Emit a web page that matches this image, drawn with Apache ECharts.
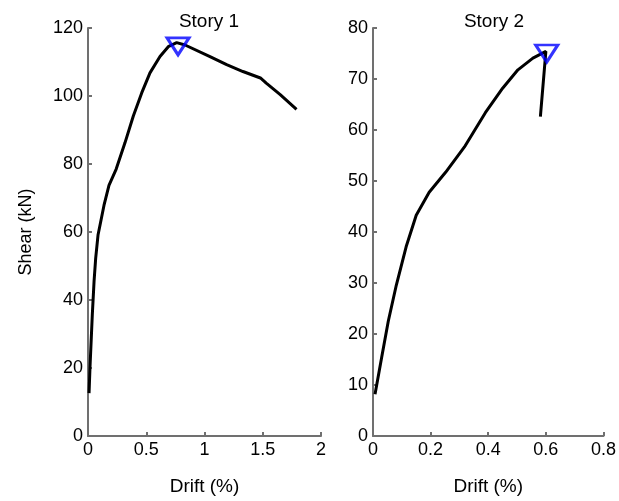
<!DOCTYPE html>
<html lang="en">
  <head>
    <meta charset="UTF-8" />
    <title>Story shear vs drift</title>
    <script src="https://cdnjs.cloudflare.com/ajax/libs/echarts/6.0.0/echarts.min.js"></script>
    <style>
      html, body { margin: 0; padding: 0; background: #fff; }
    </style>
  </head>
  <body>
    <div id="main" style="width: 619px; height: 501px"></div>
    <script>
      // pushover curves
      var story1Drift = [0.009, 0.017, 0.037, 0.052, 0.066, 0.086, 0.109, 0.137, 0.18, 0.242, 0.318, 0.389, 0.461, 0.532, 0.618, 0.689, 0.761, 0.833, 1.047, 1.19, 1.33, 1.48, 1.53, 1.65, 1.79];
      var story1Shear = [12.6, 20.1, 35.7, 45.5, 52.3, 59.1, 63.0, 67.8, 73.7, 78.5, 86.3, 94.1, 100.9, 106.8, 111.6, 114.5, 115.7, 115.0, 111.6, 109.2, 107.2, 105.3, 103.8, 100.4, 96.1];
      var story2Drift = [0.007, 0.03, 0.053, 0.081, 0.115, 0.15, 0.195, 0.252, 0.32, 0.39, 0.45, 0.503, 0.555, 0.6, 0.581];
      var story2Shear = [8.2, 15.4, 22.5, 29.6, 37.1, 43.3, 47.8, 51.7, 56.9, 63.4, 68.2, 71.8, 74.1, 75.4, 62.6];
      // peak markers
      var peak1 = [0.773, 114.6];
      var peak2 = [0.603, 75.0];
      var titles = ["Story 1", "Story 2"];

      function zip(xs, ys) {
        return xs.map(function (x, i) { return [x, ys[i]]; });
      }

      var font = "Liberation Sans, Arial, sans-serif";
      var axisGray = "#707070";

      function xAx(idx, max, step) {
        return {
          type: "value", gridIndex: idx, min: 0, max: max, interval: step,
          name: "Drift (%)", nameLocation: "middle", nameGap: 41,
          nameTextStyle: { color: "#000", fontSize: 19, fontFamily: font },
          axisLine: { show: true, onZero: false, lineStyle: { color: axisGray, width: 2 } },
          axisTick: { show: true, inside: true, length: 4, lineStyle: { color: axisGray, width: 2 } },
          axisLabel: { color: "#000", fontSize: 18, fontFamily: font, margin: 5 },
          splitLine: { show: false }
        };
      }
      function yAx(idx, max, step, name) {
        return {
          type: "value", gridIndex: idx, min: 0, max: max, interval: step,
          name: name, nameLocation: "middle", nameGap: 53,
          nameTextStyle: { color: "#000", fontSize: 18, fontFamily: font },
          axisLine: { show: true, onZero: false, lineStyle: { color: axisGray, width: 2 } },
          axisTick: { show: true, inside: true, length: 4, lineStyle: { color: axisGray, width: 2 } },
          axisLabel: { color: "#000", fontSize: 18, fontFamily: font, margin: 5 },
          splitLine: { show: false }
        };
      }
      function curve(idx, data) {
        return {
          type: "line", xAxisIndex: idx, yAxisIndex: idx, data: data,
          showSymbol: false, smooth: false, animation: false,
          lineStyle: { color: "#000", width: 3 }
        };
      }
      function peak(idx, pt) {
        return {
          type: "scatter", xAxisIndex: idx, yAxisIndex: idx, data: [pt],
          symbol: "triangle", symbolRotate: 180, symbolSize: [22, 17],
          animation: false, z: 5,
          itemStyle: { color: "rgba(0,0,0,0)", borderColor: "#0000ff", borderWidth: 3 }
        };
      }

      var myChart = echarts.init(document.getElementById("main"));
      var option = {
        backgroundColor: "#fff",
        title: [
          { text: titles[0], left: 204, top: 7, textAlign: "center",
            textStyle: { color: "#000", fontSize: 19, fontWeight: "normal", fontFamily: font } },
          { text: titles[1], left: 489, top: 7, textAlign: "center",
            textStyle: { color: "#000", fontSize: 19, fontWeight: "normal", fontFamily: font } }
        ],
        grid: [
          { left: 88, top: 28, width: 233, height: 411 },
          { left: 373, top: 28, width: 234, height: 411 }
        ],
        xAxis: [xAx(0, 2, 0.5), xAx(1, 0.8, 0.2)],
        yAxis: [yAx(0, 120, 20, "Shear (kN)"), yAx(1, 80, 10, "")],
        series: [
          curve(0, zip(story1Drift, story1Shear)),
          curve(1, zip(story2Drift, story2Shear)),
          peak(0, peak1),
          peak(1, peak2)
        ]
      };
      myChart.setOption(option);
    </script>
  </body>
</html>
